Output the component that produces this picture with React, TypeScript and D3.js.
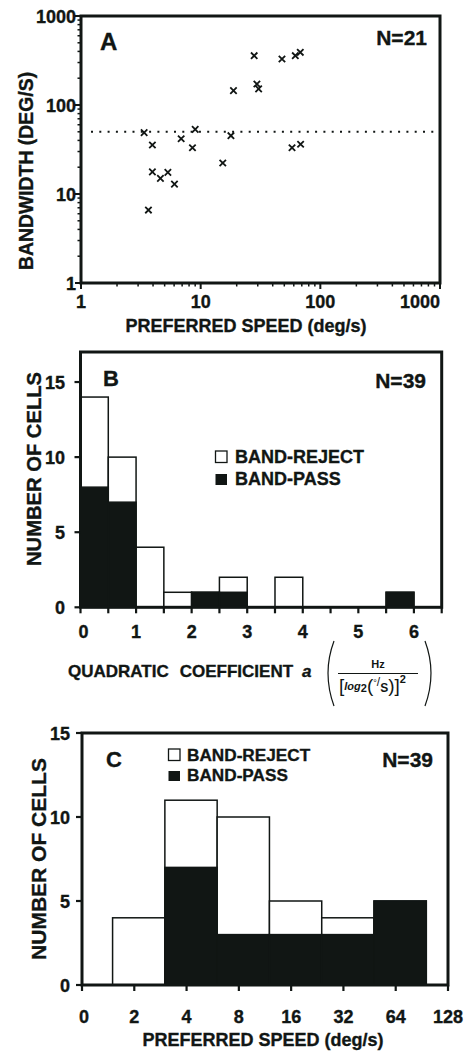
import React from "react";
import * as d3 from "d3";

// ---------- Panel A data ----------
const speedA = [3.37, 3.95, 3.95, 4.61, 5.32, 6.04, 3.66, 6.87, 8.54, 9.0, 15.3, 17.9, 18.8, 28.0, 29.5, 30.5, 47.8, 58, 61.8, 68, 68.4];
const bandwidthA = [48.9, 35.5, 17.7, 15.0, 17.5, 12.9, 6.6, 41.8, 33.1, 53.3, 22.3, 45.2, 145, 358, 172, 152, 329, 33.1, 358, 391, 36.2];
const thresholdA = 50;
const ticksA = [1, 10, 100, 1000];

// ---------- Panel B data ----------
const binStartB = [0, 0.5, 1, 1.5, 2, 2.5, 3, 3.5, 4, 4.5, 5, 5.5, 6];
const totalB = [14, 10, 4, 1, 1, 2, 0, 2, 0, 0, 0, 1, 0];
const passB = [8, 7, 0, 0, 1, 1, 0, 0, 0, 0, 0, 1, 0];
const binWidthB = 0.5;
const xTicksB = [0, 1, 2, 3, 4, 5, 6];
const yTicksB = [0, 5, 10, 15];

// ---------- Panel C data ----------
const binEdgesC = [1.5, 3, 6, 12, 24, 48, 96];
const totalC = [4, 11, 10, 5, 4, 5];
const passC = [0, 7, 3, 3, 3, 5];
const xTickValuesC = [1, 2, 4, 8, 16, 32, 64, 128];
const xTickLabelsC = ["0", "2", "4", "8", "16", "32", "64", "128"];
const yTicksC = [0, 5, 10, 15];

const FONT = "'Liberation Sans', Arial, Helvetica, sans-serif";
const INK = "#111614";

export default function App() {
  const xA = d3.scaleLog().domain([1, 1000]).range([81, 440]);
  const yA = d3.scaleLog().domain([1, 1000]).range([283, 16]);
  const xB = d3.scaleLinear().domain([0, 6.5]).range([80.5, 441.7]);
  const yB = d3.scaleLinear().domain([0, 17]).range([607.3, 352]);
  const xC = d3.scaleLog().base(2).domain([1, 128]).range([82, 448]);
  const yC = d3.scaleLinear().domain([0, 15]).range([985, 733]);

  const minorA: number[] = [];
  for (let d = 1; d < 1000; d *= 10) for (let k = 2; k <= 9; k++) minorA.push(d * k);

  const txt = (props: any, s: any) => (
    <text fontFamily={FONT} fontWeight="bold" fill={INK} stroke={INK} strokeWidth={0.35} {...props}>{s}</text>
  );

  const cross = (cx: number, cy: number, i: number) => {
    const r = 3.2;
    return (
      <path key={i} d={`M${cx - r},${cy - r}L${cx + r},${cy + r}M${cx - r},${cy + r}L${cx + r},${cy - r}`} stroke={INK} strokeWidth={1.8} />
    );
  };

  return (
    <svg width={473} height={1053} style={{ position: "absolute", left: 0, top: 0, background: "#fff" }}>
      <rect x={0} y={0} width={473} height={1053} fill="#fff" />

      {/* ================= Panel A ================= */}
      <g>
        <line x1={xA(1) + 10} x2={xA(1000)} y1={yA(thresholdA)} y2={yA(thresholdA)} stroke={INK} strokeWidth={2} strokeDasharray="2,6.3" />
        {speedA.map((s, i) => cross(xA(s), yA(bandwidthA[i]), i))}
        <rect x={xA(1)} y={yA(1000)} width={xA(1000) - xA(1)} height={yA(1) - yA(1000)} fill="none" stroke={INK} strokeWidth={3} />
        {minorA.map((v, i) => (
          <g key={"ma" + i}>
            <line x1={xA(v)} x2={xA(v)} y1={yA(1)} y2={yA(1) + 3.5} stroke={INK} strokeWidth={1.5} />
            <line x1={xA(1) - 3.5} x2={xA(1)} y1={yA(v)} y2={yA(v)} stroke={INK} strokeWidth={1.5} />
          </g>
        ))}
        {ticksA.map((v, i) => (
          <g key={"ta" + i}>
            <line x1={xA(v)} x2={xA(v)} y1={yA(1)} y2={yA(1) + 6} stroke={INK} strokeWidth={2} />
            <line x1={xA(1) - 6} x2={xA(1)} y1={yA(v)} y2={yA(v)} stroke={INK} strokeWidth={2} />
            {txt({ x: xA(v), y: 308, textAnchor: i === ticksA.length - 1 ? "end" : "middle", fontSize: 18 }, String(v))}
            {txt({ x: 76, y: yA(v) + 6.5, textAnchor: "end", fontSize: 18 }, String(v))}
          </g>
        ))}
        {txt({ x: 100, y: 50, fontSize: 24 }, "A")}
        {txt({ x: 427, y: 45, textAnchor: "end", fontSize: 21 }, "N=21")}
        {txt({ transform: "translate(33,171) rotate(-90)", textAnchor: "middle", fontSize: 19.4 }, "BANDWIDTH (DEG/S)")}
        {txt({ x: 246, y: 332, textAnchor: "middle", fontSize: 18 }, "PREFERRED SPEED (deg/s)")}
      </g>

      {/* ================= Panel B ================= */}
      <g>
        {binStartB.map((b, i) =>
          totalB[i] > 0 ? (
            <rect key={"wb" + i} x={xB(b)} y={yB(totalB[i])} width={xB(b + binWidthB) - xB(b)} height={yB(0) - yB(totalB[i])} fill="#fff" stroke={INK} strokeWidth={1.5} />
          ) : null
        )}
        {binStartB.map((b, i) =>
          passB[i] > 0 ? (
            <rect key={"bb" + i} x={xB(b)} y={yB(passB[i])} width={xB(b + binWidthB) - xB(b)} height={yB(0) - yB(passB[i])} fill={INK} stroke={INK} strokeWidth={1.5} />
          ) : null
        )}
        <rect x={xB(0)} y={yB(17)} width={xB(6.5) - xB(0)} height={yB(0) - yB(17)} fill="none" stroke={INK} strokeWidth={3} />
        {binStartB.map((b, i) => (
          <line key={"tb" + i} x1={xB(b)} x2={xB(b)} y1={yB(0)} y2={yB(0) + 6} stroke={INK} strokeWidth={2.2} />
        ))}
        <line x1={xB(6.5)} x2={xB(6.5)} y1={yB(0)} y2={yB(0) + 6} stroke={INK} strokeWidth={2.2} />
        {xTicksB.map((v, i) => (
          <g key={"xlb" + i}>{txt({ x: xB(v) + (v === 0 ? 3 : 0), y: 638, textAnchor: "middle", fontSize: 18 }, String(v))}</g>
        ))}
        {yTicksB.map((v, i) => (
          <g key={"ylb" + i}>
            <line x1={xB(0) - 6} x2={xB(0)} y1={yB(v)} y2={yB(v)} stroke={INK} strokeWidth={2.2} />
            {txt({ x: 65, y: yB(v) + 6.5, textAnchor: "end", fontSize: 18 }, String(v))}
          </g>
        ))}
        {txt({ x: 103, y: 386, fontSize: 22 }, "B")}
        {txt({ x: 426, y: 388, textAnchor: "end", fontSize: 21 }, "N=39")}
        <rect x={215.5} y={451} width={11.5} height={11.5} fill="#fff" stroke={INK} strokeWidth={1.3} />
        <rect x={215.5} y={474} width={11.5} height={11} fill={INK} />
        {txt({ x: 235, y: 462.7, fontSize: 18 }, "BAND-REJECT")}
        {txt({ x: 235, y: 485, fontSize: 18 }, "BAND-PASS")}
        {txt({ transform: "translate(41,469) rotate(-90)", textAnchor: "middle", fontSize: 20.2 }, "NUMBER OF CELLS")}
        {/* x title with unit fraction */}
        <text x={68} y={677} fontFamily={FONT} fontWeight="bold" fontSize={17} fill={INK} stroke={INK} strokeWidth={0.35}>
          QUADRATIC<tspan dx={11}>COEFFICIENT</tspan>
          <tspan dx={9} fontStyle="italic">a</tspan>
        </text>
        <path d="M334,641 Q322,673 334,706" fill="none" stroke={INK} strokeWidth={1.2} />
        <path d="M425,641 Q437,673 425,706" fill="none" stroke={INK} strokeWidth={1.2} />
        <text x={378} y={668} textAnchor="middle" fontFamily={FONT} fontWeight="bold" fontSize={11} fill={INK}>Hz</text>
        <line x1={338} x2={418} y1={673.5} y2={673.5} stroke={INK} strokeWidth={1.2} />
        <text x={339} y={692} fontFamily={FONT} fill={INK}>
          <tspan fontSize={19}>[</tspan>
          <tspan fontStyle="italic" fontSize={11} fontWeight="bold" dy={-2}>log</tspan>
          <tspan fontSize={11} fontWeight="bold" dy={2}>2</tspan>
          <tspan fontSize={19}>(</tspan>
          <tspan fontSize={9} dy={-6}>°</tspan>
          <tspan fontSize={12}>/</tspan>
          <tspan fontSize={12} dy={6} fontWeight="bold">S</tspan>
          <tspan fontSize={19}>)</tspan>
          <tspan fontSize={19}>]</tspan>
          <tspan fontSize={11} fontWeight="bold" dy={-9}>2</tspan>
        </text>
      </g>

      {/* ================= Panel C ================= */}
      <g>
        {totalC.map((t, i) =>
          t > 0 ? (
            <rect key={"wc" + i} x={xC(binEdgesC[i])} y={yC(t)} width={xC(binEdgesC[i + 1]) - xC(binEdgesC[i])} height={yC(0) - yC(t)} fill="#fff" stroke={INK} strokeWidth={1.5} />
          ) : null
        )}
        {passC.map((p, i) =>
          p > 0 ? (
            <rect key={"bc" + i} x={xC(binEdgesC[i])} y={yC(p)} width={xC(binEdgesC[i + 1]) - xC(binEdgesC[i])} height={yC(0) - yC(p)} fill={INK} stroke={INK} strokeWidth={1.5} />
          ) : null
        )}
        <rect x={xC(1)} y={yC(15)} width={xC(128) - xC(1)} height={yC(0) - yC(15)} fill="none" stroke={INK} strokeWidth={3} />
        {xTickValuesC.map((v, i) => (
          <g key={"xc" + i}>
            <line x1={xC(v)} x2={xC(v)} y1={yC(0)} y2={yC(0) + 6} stroke={INK} strokeWidth={2.2} />
            {txt({ x: xC(v) + (i === 0 ? 2 : 0), y: 1023, textAnchor: "middle", fontSize: 18 }, xTickLabelsC[i])}
          </g>
        ))}
        {yTicksC.map((v, i) => (
          <g key={"yc" + i}>
            <line x1={xC(1) - 6} x2={xC(1)} y1={yC(v)} y2={yC(v)} stroke={INK} strokeWidth={2.2} />
            {txt({ x: 70, y: yC(v) + 6.5, textAnchor: "end", fontSize: 18 }, String(v))}
          </g>
        ))}
        {txt({ x: 106, y: 767, fontSize: 22 }, "C")}
        {txt({ x: 433, y: 767, textAnchor: "end", fontSize: 21 }, "N=39")}
        <rect x={168.5} y={749} width={11.5} height={11.5} fill="#fff" stroke={INK} strokeWidth={1.3} />
        <rect x={168.5} y={771} width={11.5} height={10} fill={INK} />
        {txt({ x: 187, y: 761, fontSize: 17.2 }, "BAND-REJECT")}
        {txt({ x: 187, y: 781, fontSize: 17.2 }, "BAND-PASS")}
        {txt({ transform: "translate(46,859) rotate(-90)", textAnchor: "middle", fontSize: 21 }, "NUMBER OF CELLS")}
        {txt({ x: 263, y: 1046, textAnchor: "middle", fontSize: 18 }, "PREFERRED SPEED (deg/s)")}
      </g>
    </svg>
  );
}
